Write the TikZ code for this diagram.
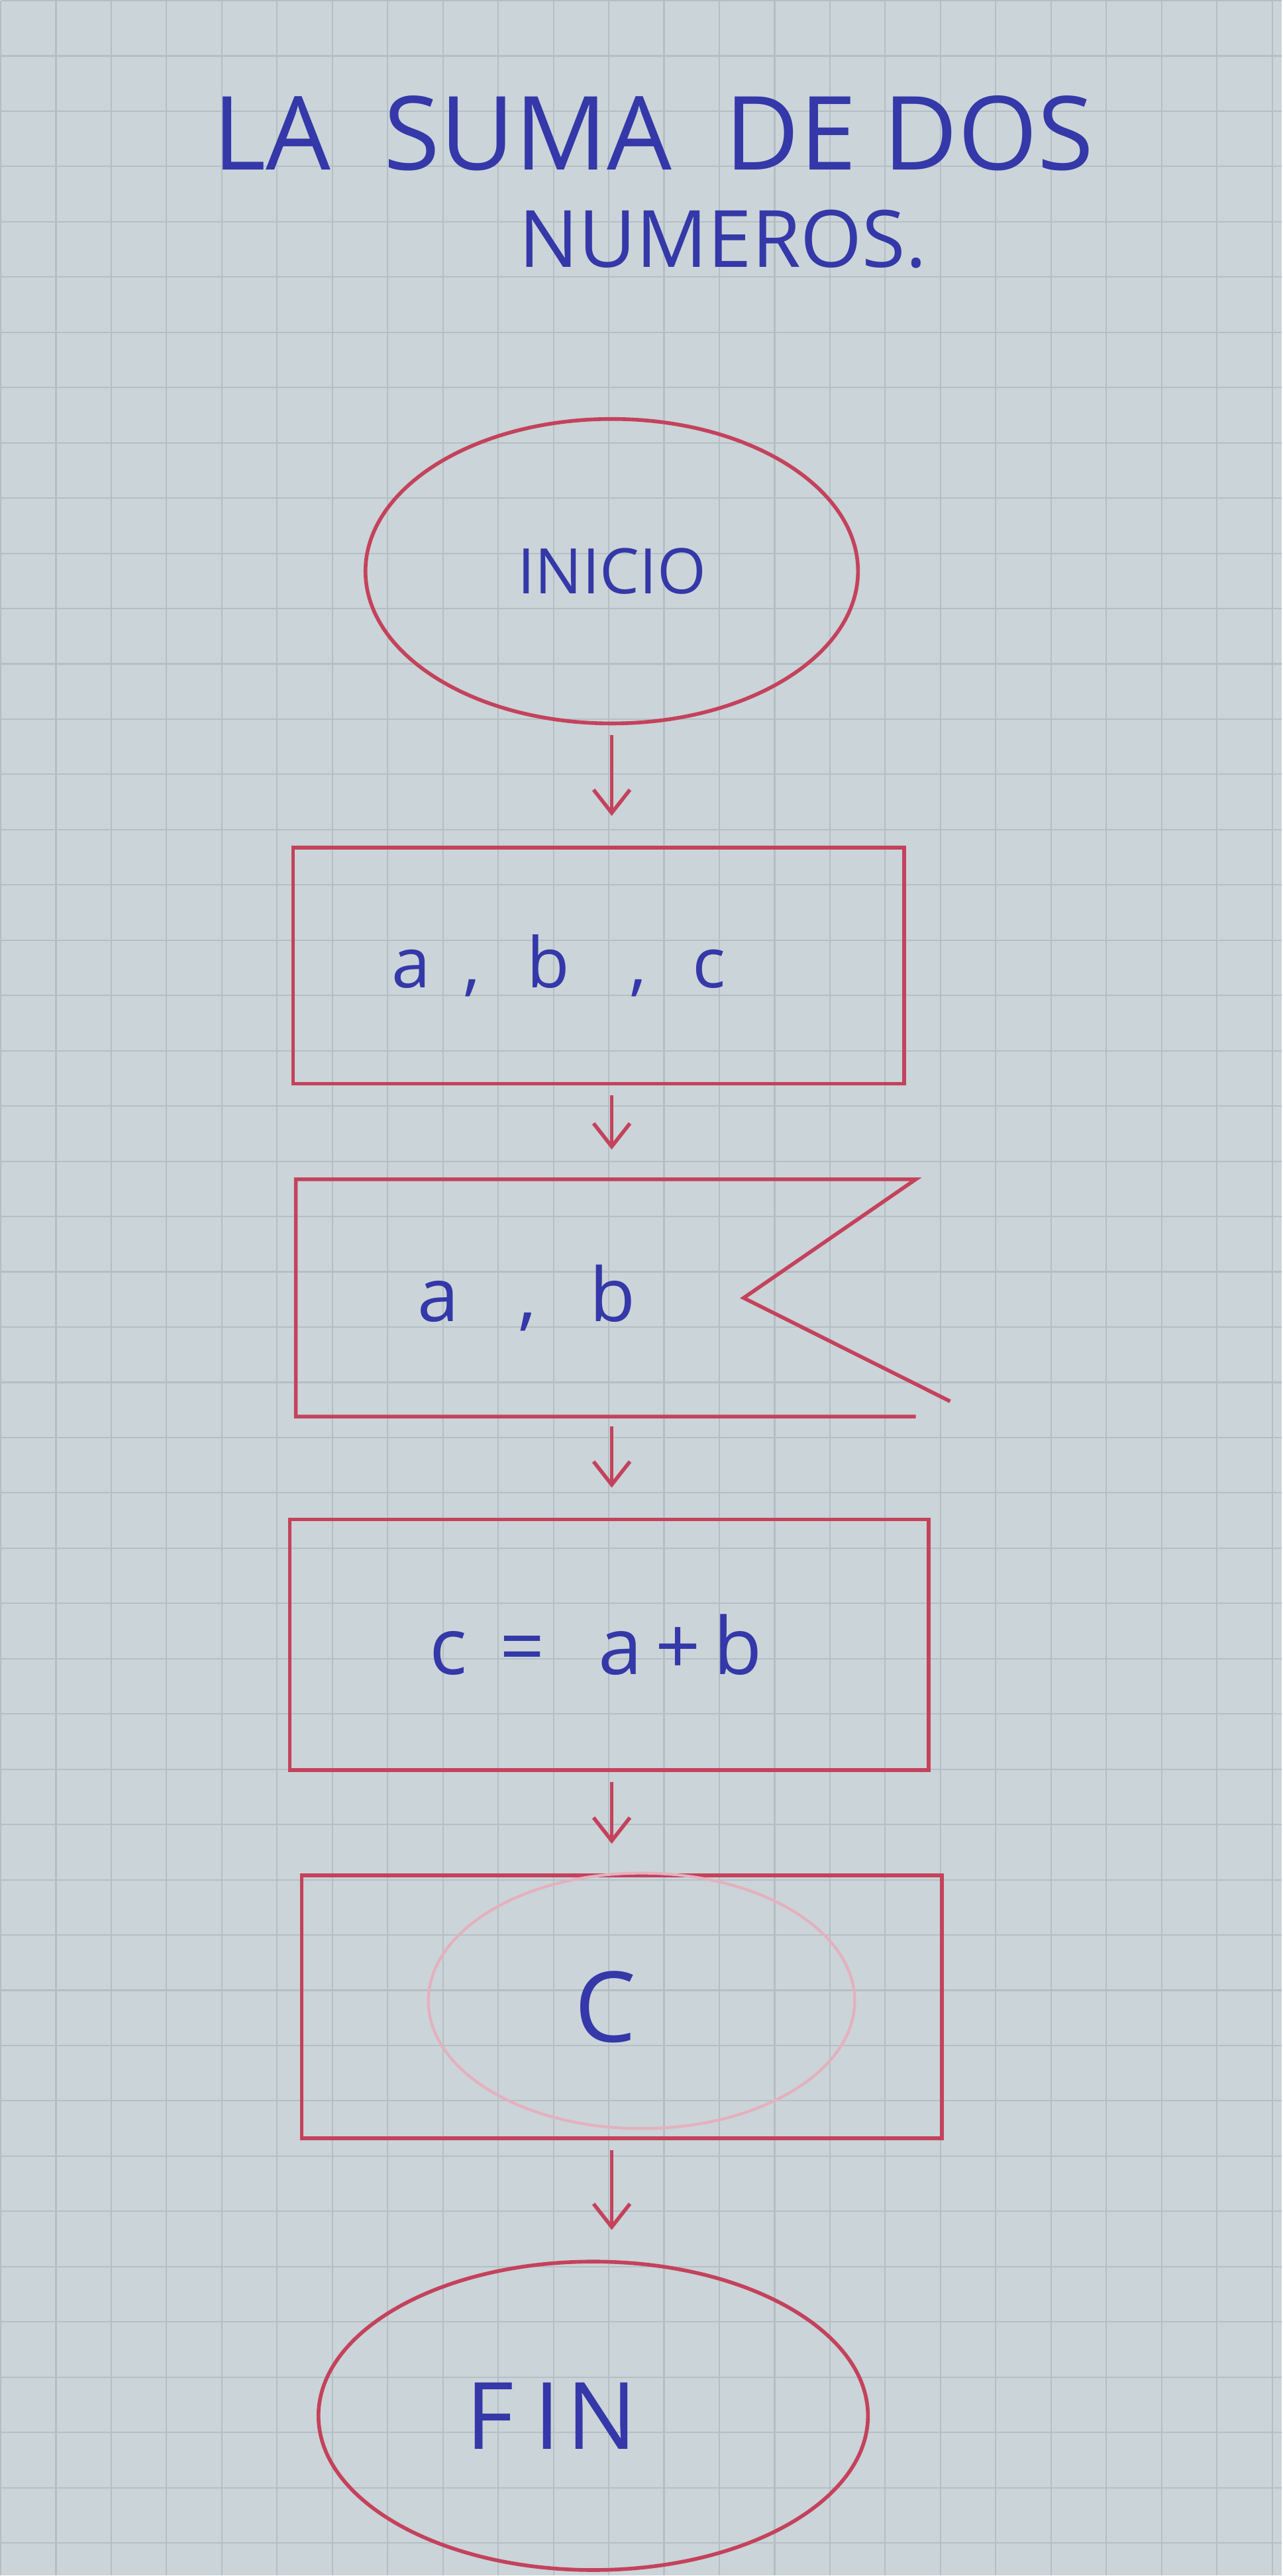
\documentclass[tikz,border=0pt]{standalone}
\usepackage{fontspec}
\setmainfont{Open Sans}
\usetikzlibrary{shapes.geometric,arrows.meta,positioning}
\definecolor{papel}{RGB}{203,212,216}
\definecolor{cuadro}{RGB}{180,191,197}
\definecolor{tinta}{RGB}{52,56,168}
\definecolor{rojo}{RGB}{196,66,92}
\definecolor{rosa}{RGB}{228,176,190}
\newcommand{\hueco}[1]{\rule{#1}{0pt}}

\begin{document}
\begin{tikzpicture}[
    ovalo/.style={draw=rojo, line width=1.6pt, ellipse, text=tinta},
    caja/.style={draw=rojo, line width=1.6pt, rectangle, text=tinta},
    flecha/.style={-{Straight Barb[length=3.5mm,width=5.5mm]}, draw=rojo, line width=1.6pt, shorten <=1.5mm, shorten >=4.5mm}]
    % hoja cuadriculada
    \fill[papel] (0,0) rectangle (19.35,-38.9);
    \draw[cuadro, line width=0.6pt, step=0.835] (0,0) grid (19.35,-38.9);
    \useasboundingbox (0,0) rectangle (19.35,-38.9);

    \node[text=tinta, font=\fontsize{44}{50}\selectfont] (titulo1) at (9.86,-2.0) {LA \ SUMA \ DE DOS};
    \node[text=tinta, font=\fontsize{34}{40}\selectfont] (titulo2) at (10.91,-3.6) {NUMEROS.};

    \node [ovalo, minimum width=7.44cm, minimum height=4.6cm, font=\fontsize{27}{30}\selectfont] (inicio) at (9.23,-8.62) {INICIO};
    \node [caja, minimum width=9.23cm, minimum height=3.57cm, font=\fontsize{30}{36}\selectfont, below of=inicio, node distance=5.96cm, xshift=-0.2cm] (datos) {a\hspace{0.5cm},\hspace{0.7cm}b\hspace{0.9cm},\hspace{0.7cm}c\hueco{1.2cm}};
    \node [minimum width=9.35cm, minimum height=3.57cm, text=tinta, font=\fontsize{32}{36}\selectfont, below of=datos, node distance=5.02cm, xshift=0.11cm] (leer) {a\hspace{0.9cm},\hspace{0.8cm}b\hueco{2.4cm}};
    \node [caja, minimum width=9.65cm, minimum height=3.79cm, font=\fontsize{34}{40}\selectfont, below of=leer, node distance=5.24cm, xshift=0.05cm] (suma) {c\hspace{0.5cm}=\hspace{0.8cm}a\,+\,b\hueco{0.4cm}};
    \node [caja, minimum width=9.67cm, minimum height=3.97cm, font=\fontsize{42}{48}\selectfont, below of=suma, node distance=5.47cm, xshift=0.19cm] (salida) {C\hueco{0.5cm}};
    \node [ovalo, minimum width=8.3cm, minimum height=4.66cm, font=\fontsize{40}{44}\selectfont, below of=salida, node distance=6.18cm, xshift=-0.43cm] (fin) {F\hspace{0.3cm}I\hspace{0.1cm}N\hueco{1.26cm}};

    % entrada con muesca y pantalla
    \coordinate (muesca) at ([xshift=-2.6cm]leer.east);
    \draw [rojo, line width=1.6pt] ([xshift=0.52cm,yshift=0.23cm]leer.south east) -- (muesca) -- (leer.north east) -- (leer.north west) -- (leer.south west) -- (leer.south east);
    \node [ellipse, draw=rosa, line width=1.2pt, minimum width=6.44cm, minimum height=3.86cm] (pantalla) at ([xshift=0.3cm,yshift=0.09cm]salida.center) {};

    \draw [flecha] (inicio.south) -- (datos.north -| inicio.south);
    \draw [flecha] (datos.south -| inicio.south) -- (leer.north -| inicio.south);
    \draw [flecha] (leer.south -| inicio.south) -- (suma.north -| inicio.south);
    \draw [flecha] (suma.south -| inicio.south) -- (salida.north -| inicio.south);
    \draw [flecha] (salida.south -| inicio.south) -- (fin.north -| inicio.south);
\end{tikzpicture}
\end{document}
